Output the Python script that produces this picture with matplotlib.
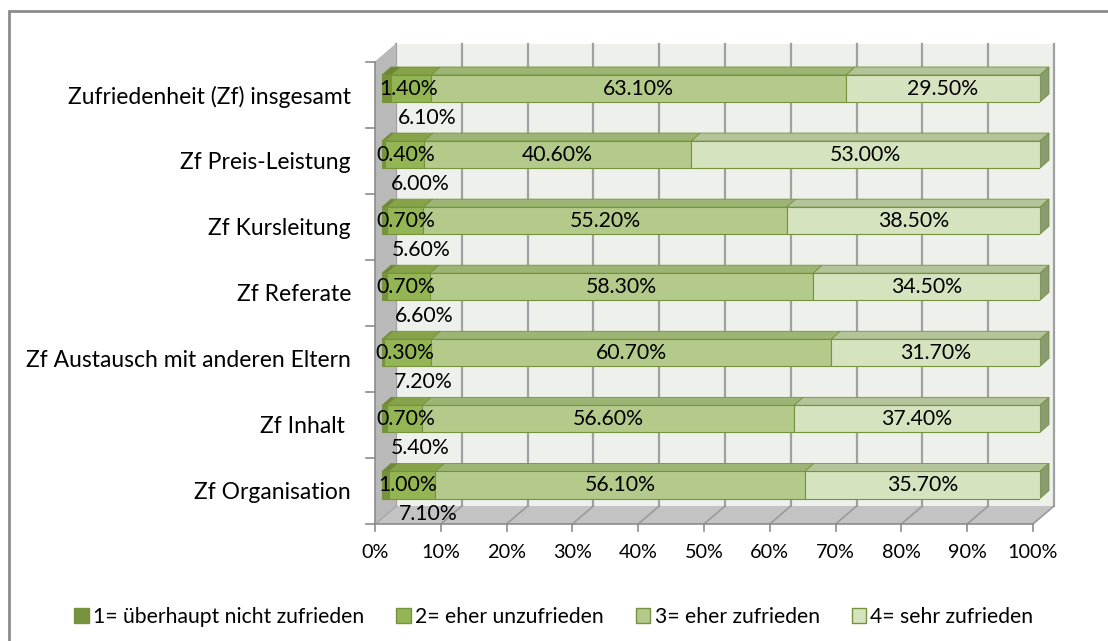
import numpy as np
import matplotlib.pyplot as plt
from matplotlib.patches import Polygon, Rectangle, Patch
from matplotlib.transforms import IdentityTransform

# data (percent)
categories = ["Zufriedenheit (Zf) insgesamt", "Zf Preis-Leistung", "Zf Kursleitung",
              "Zf Referate", "Zf Austausch mit anderen Eltern", "Zf Inhalt ", "Zf Organisation"]
s1 = [1.4, 0.4, 0.7, 0.7, 0.3, 0.7, 1.0]
s2 = [6.1, 6.0, 5.6, 6.6, 7.2, 5.4, 7.1]
s3 = [63.1, 40.6, 55.2, 58.3, 60.7, 56.6, 56.1]
s4 = [29.5, 53.0, 38.5, 34.5, 31.7, 37.4, 35.7]
series_names = ["1= überhaupt nicht zufrieden", "2= eher unzufrieden",
                "3= eher zufrieden", "4= sehr zufrieden"]
xticks = np.arange(0, 101, 10)

colors = ['#77933C', '#93B553', '#B3CA8A', '#D6E3BF']
tops = ['#6B8735', '#86A34A', '#9DB574', '#B4C49A']
sides = ['#5C742D', '#6F8A3C', '#7F955A', '#8A9A72']
edge = '#76923C'

plt.rcParams['font.family'] = 'Lato'
FS = 16.5      # category labels
FL = 15.2      # legend
FN = 15.3      # numbers

fig = plt.figure(figsize=(11.08, 6.41), dpi=100)
ax = fig.add_axes([382 / 1108, 1 - 518 / 641, 658 / 1108, (518 - 55.5) / 641])
ax.set_xlim(0, 100)
ax.set_ylim(-0.5, 6.5)
ax.axis('off')

BACK = (14, 12)
FRONT = (-7, -6)
DEPTH = (9, 8)


def px(x, y, off=(0, 0)):
    p = ax.transData.transform((x, y))
    return [p[0] + off[0], p[1] + off[1]]


def poly(pts, **kw):
    ax.add_patch(Polygon(pts, closed=True, transform=IdentityTransform(), clip_on=False, **kw))


def line(p, q, **kw):
    ax.add_line(plt.Line2D([p[0], q[0]], [p[1], q[1]], transform=IdentityTransform(),
                           clip_on=False, **kw))


# back wall with gridlines
poly([px(0, -0.5, BACK), px(100, -0.5, BACK), px(100, 6.5, BACK), px(0, 6.5, BACK)],
     fc='#EEF0EB', ec='none', zorder=1)
for t in xticks:
    line(px(t, -0.5, BACK), px(t, 6.5, BACK), color='#A0A0A0', lw=1.6, zorder=2)

# floor
poly([px(0, -0.5, BACK), px(100, -0.5, BACK), px(100, -0.5, FRONT), px(0, -0.5, FRONT)],
     fc='#C3C3C3', ec='none', zorder=1)
for t in xticks:
    line(px(t, -0.5, BACK), px(t, -0.5, FRONT), color='#9A9A9A', lw=1.2, zorder=2)
line(px(0, -0.5, FRONT), px(100, -0.5, FRONT), color='#8C8C8C', lw=1.2, zorder=2)
for t in xticks:
    p = px(t, -0.5, FRONT)
    line(p, [p[0], p[1] - 7], color='#8C8C8C', lw=1.2, zorder=2)

# left wall
poly([px(0, -0.5, FRONT), px(0, 6.5, FRONT), px(0, 6.5, BACK), px(0, -0.5, BACK)],
     fc='#B9B9B9', ec='none', zorder=2)
line(px(0, -0.5, FRONT), px(0, 6.5, FRONT), color='#8C8C8C', lw=1.2, zorder=2)
for k in range(8):
    p = px(0, k - 0.5, FRONT)
    line([p[0] - 9, p[1]], p, color='#8C8C8C', lw=1.2, zorder=2)

# stacked 3d-looking bars
ypos = np.arange(len(categories))[::-1]
data = np.array([s1, s2, s3, s4])
shares = data / data.sum(axis=0) * 100
lefts = np.vstack([np.zeros(len(categories)), np.cumsum(shares, axis=0)[:-1]])
h = 0.41
for k in range(4):
    ax.barh(ypos, shares[k], left=lefts[k], height=h, color=colors[k],
            edgecolor=edge, lw=0.8, zorder=5)
    for y, l, w in zip(ypos, lefts[k], shares[k]):
        r = l + w
        poly([px(l, y + h / 2), px(r, y + h / 2), px(r, y + h / 2, DEPTH), px(l, y + h / 2, DEPTH)],
             fc=tops[k], ec=edge, lw=0.6, zorder=4)
        if k == 3:
            poly([px(r, y - h / 2), px(r, y + h / 2), px(r, y + h / 2, DEPTH), px(r, y - h / 2, DEPTH)],
                 fc=sides[k], ec=edge, lw=0.6, zorder=4)

# data labels
for i, y in enumerate(ypos):
    ax.annotate(f'{s1[i]:.2f}%', xy=(lefts[0][i] + shares[0][i] / 2, y), xytext=(22, 0),
                textcoords='offset pixels', ha='center', va='center', fontsize=FN, zorder=7)
    ax.annotate(f'{s2[i]:.2f}%', xy=(lefts[1][i] + shares[1][i] / 2, y), xytext=(16, -29),
                textcoords='offset pixels', ha='center', va='center', fontsize=FN, zorder=7)
    for k, s in ((2, s3), (3, s4)):
        ax.annotate(f'{s[i]:.2f}%', xy=(lefts[k][i] + shares[k][i] / 2, y),
                    ha='center', va='center', fontsize=FN, zorder=7)

# category and axis labels
for cat, y in zip(categories, ypos):
    ax.annotate(cat, xy=(0, y), xytext=(-31, -8), textcoords='offset pixels',
                ha='right', va='center', fontsize=FS)
for t in xticks:
    ax.annotate(f'{t}%', xy=(t, -0.5), xytext=(-7, -35), textcoords='offset pixels',
                ha='center', va='center', fontsize=FN - 1)

handles = [Patch(fc=c, ec=edge, lw=1) for c in colors]
fig.legend(handles, series_names, loc='center', bbox_to_anchor=(0.5, 1 - 617 / 641),
           ncol=4, frameon=False, fontsize=FL, handlelength=0.7, handleheight=0.75,
           handletextpad=0.2, columnspacing=1.5)

fig.add_artist(Rectangle((9 / 1108, -0.05), 1.2, 1 - 11 / 641 + 0.05, transform=fig.transFigure,
                         fill=False, ec='#8C8C8C', lw=2))

fig.savefig('out.png', dpi=100)
